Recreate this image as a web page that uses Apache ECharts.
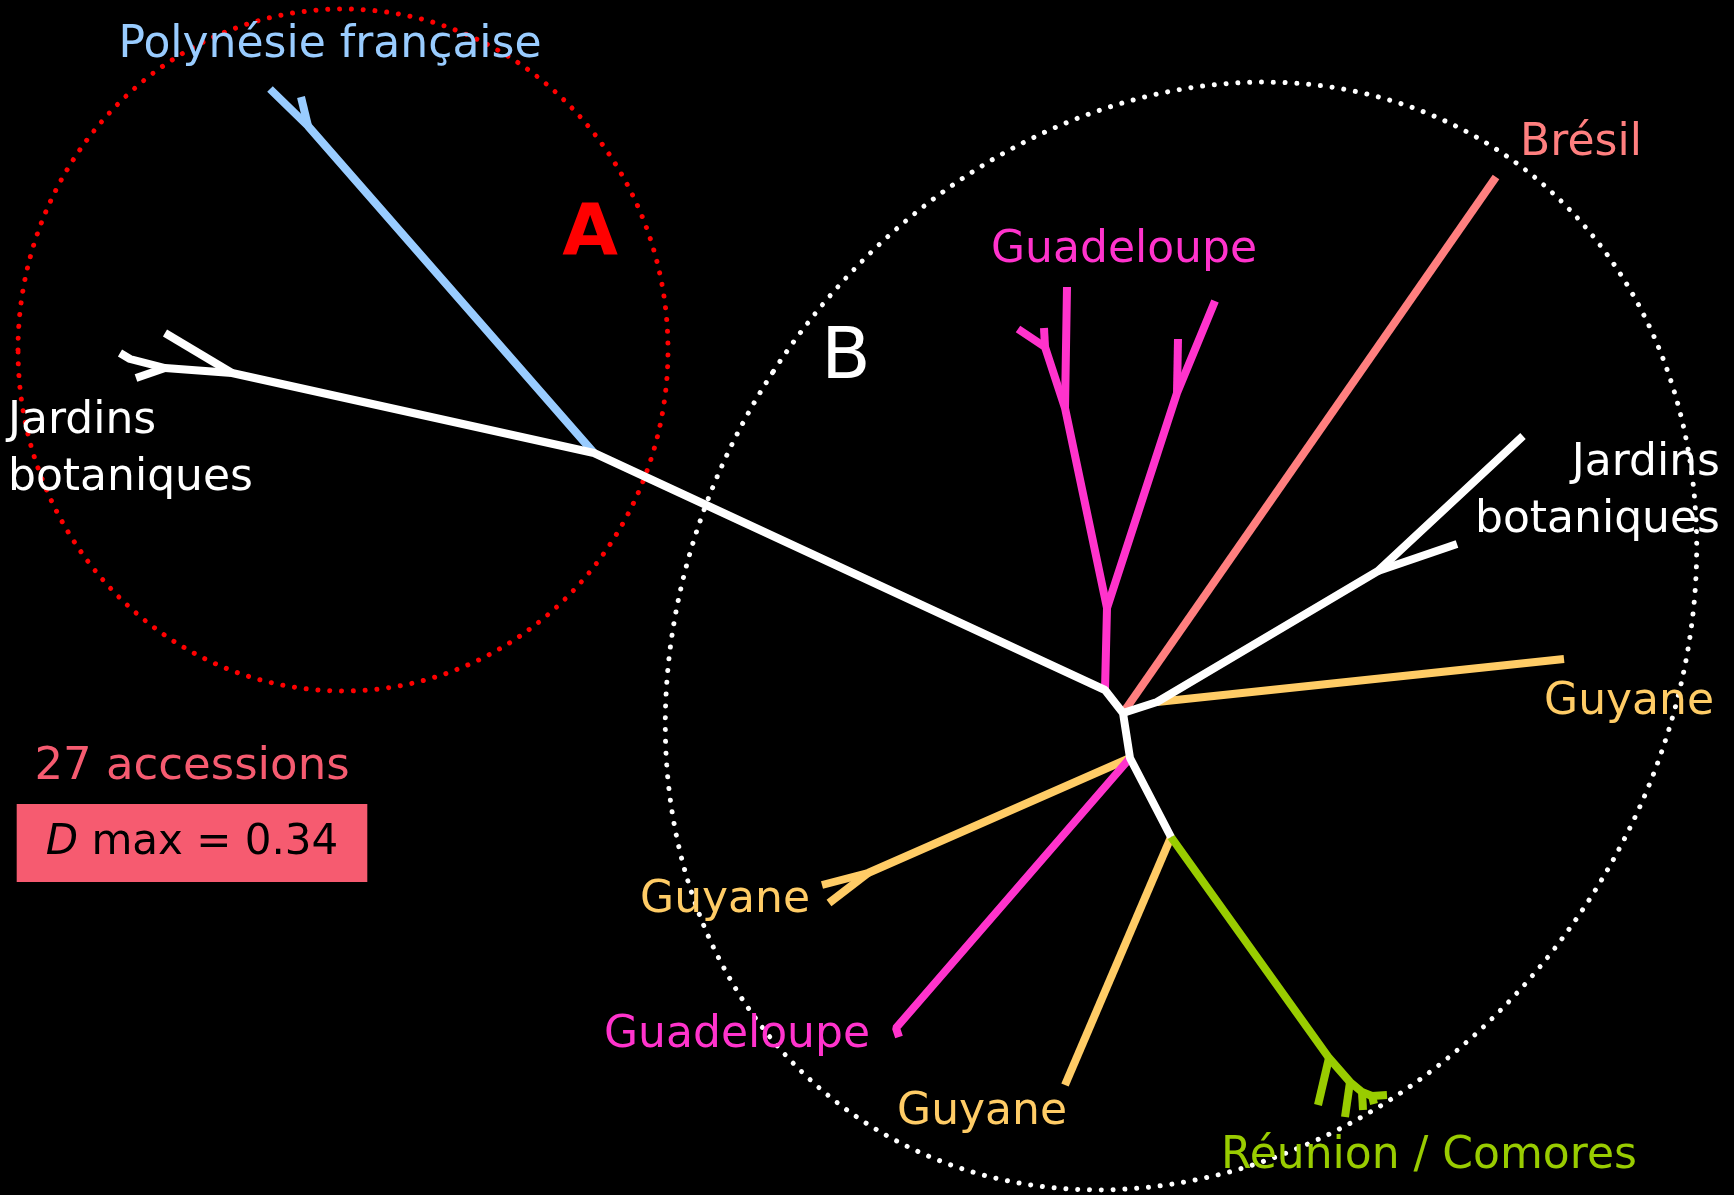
<!DOCTYPE html>
<html>
<head>
<meta charset="utf-8">
<title>Arbre non raciné - 27 accessions</title>
<script src="https://cdn.jsdelivr.net/npm/echarts@6/dist/echarts.min.js"></script>
<style>
html, body { margin: 0; padding: 0; background: #000; }
#tree { width: 1734px; height: 1195px; }
</style>
</head>
<body>
<div id="tree"></div>
<script>
// tree layout (layout units, y pointing down)
var whiteBranches = [
  [[120,353],[130,359],[165,368],[232,373],[594,453],[1105,690],[1123,713],[1130,758],[1171,837]],
  [[165,333],[232,373]],
  [[136,378],[165,368]],
  [[1123,713],[1157,702],[1378,571],[1523,436]],
  [[1378,571],[1457,544]]
];
var blueBranches = [
  [[594,453],[308,126],[270,89]],
  [[308,126],[301,97]]
];
var salmonBranches = [
  [[1123,713],[1496,177]]
];
var yellowBranches = [
  [[1157,702],[1564,659]],
  [[1130,758],[868,873],[822,885]],
  [[868,873],[829,903]],
  [[1171,837],[1065,1085]]
];
var pinkBranches = [
  [[1105,690],[1107,608],[1065,408],[1067,287]],
  [[1065,408],[1045,347],[1018,329]],
  [[1045,347],[1044,328]],
  [[1107,608],[1177,393],[1215,301]],
  [[1177,393],[1178,339]],
  [[1130,758],[896,1028],[899,1037]]
];
var greenBranches = [
  [[1171,837],[1329,1058],[1350,1082],[1362,1092],[1372,1096],[1387,1095]],
  [[1329,1058],[1318,1105]],
  [[1350,1082],[1345,1117]],
  [[1362,1092],[1363,1110]],
  [[1372,1096],[1374,1104]]
];

// clade outlines: centre x, centre y, half width, half height, tilt (deg, clockwise)
var cladeA = [343, 350, 325, 341, 0];
var cladeB = [1181, 636, 486, 580, 33];

// labels
var labelTexts = ['Polynésie française', 'A', 'B', 'Jardins\nbotaniques', 'Guadeloupe', 'Brésil',
  'Jardins\nbotaniques', 'Guyane', 'Guyane', 'Guadeloupe', 'Guyane', 'Réunion / Comores', '27 accessions'];
var labelAt = [[330,46],[590,235],[846,359],[8,450],[1124,251],[1581,144],
  [1720,492],[1714,703],[725,901],[737,1036],[982,1113],[1429,1157],[192,767]];
var labelColors = ['#99CCFF','#FF0000','#FFFFFF','#FFFFFF','#FF33CC','#FF7F7F',
  '#FFFFFF','#FFCC66','#FFCC66','#FF33CC','#FFCC66','#99CC00','#F65B70'];
var labelAlign = ['center','center','center','left','center','center',
  'right','right','center','center','center','center','center'];

var dmaxText = '{i|D}{n| max = 0.34}';
var dmaxAt = [192, 843];

var FONT = '"DejaVu Sans", Verdana, sans-serif';

var branchData = [];
function addBranches(list, color) {
  list.forEach(function (p) {
    branchData.push({ coords: p, lineStyle: { color: color } });
  });
}
addBranches(salmonBranches, '#FF7F7F');
addBranches(yellowBranches, '#FFCC66');
addBranches(pinkBranches, '#FF33CC');
addBranches(greenBranches, '#99CC00');
addBranches(blueBranches, '#99CCFF');
addBranches(whiteBranches, '#FFFFFF');

var labelData = labelTexts.map(function (t, i) {
  var big = (t === 'A' || t === 'B');
  return {
    value: labelAt[i],
    label: {
      formatter: t,
      color: labelColors[i],
      align: labelAlign[i],
      fontSize: big ? 72 : (t === '27 accessions' ? 45 : 44),
      fontWeight: t === 'A' ? 'bold' : 'normal',
      lineHeight: 57
    }
  };
});
labelData.push({
  value: dmaxAt,
  label: {
    formatter: dmaxText,
    align: 'center',
    backgroundColor: '#F65B70',
    padding: [17, 29, 17, 29],
    lineHeight: 44,
    rich: {
      i: { fontStyle: 'italic', fontSize: 42, color: '#000', fontFamily: FONT, lineHeight: 44 },
      n: { fontSize: 42, color: '#000', fontFamily: FONT, lineHeight: 44 }
    }
  }
});

var dom = document.getElementById('tree');
var myChart = echarts.init(dom);
var option = {
  backgroundColor: '#000',
  animation: false,
  grid: { left: 0, right: 0, top: 0, bottom: 0 },
  xAxis: { type: 'value', min: 0, max: 1734, show: false },
  yAxis: { type: 'value', min: 0, max: 1195, inverse: true, show: false },
  series: [
    {
      type: 'custom',
      silent: true,
      data: [cladeA.concat(0), cladeB.concat(1)],
      renderItem: function (params, api) {
        var c = api.coord([api.value(0), api.value(1)]);
        var s = api.size([api.value(2), api.value(3)]);
        return {
          type: 'ellipse',
          x: c[0], y: c[1],
          rotation: -api.value(4) * Math.PI / 180,
          shape: { cx: 0, cy: 0, rx: s[0], ry: s[1] },
          style: {
            fill: 'none',
            stroke: api.value(5) === 0 ? '#FF0000' : '#FFFFFF',
            lineWidth: 5,
            lineDash: [0.01, 11.8],
            lineCap: 'round'
          }
        };
      }
    },
    {
      type: 'lines',
      coordinateSystem: 'cartesian2d',
      polyline: true,
      silent: true,
      lineStyle: { width: 8, opacity: 1, cap: 'butt', join: 'bevel' },
      data: branchData
    },
    {
      type: 'scatter',
      silent: true,
      symbolSize: 0,
      itemStyle: { opacity: 1 },
      label: {
        show: true,
        position: [0, 0],
        verticalAlign: 'middle',
        fontFamily: FONT,
        opacity: 1
      },
      data: labelData
    }
  ]
};
if (option && typeof option === 'object') {
  myChart.setOption(option, true);
  window.addEventListener('resize', function () { myChart.resize(); });
}
</script>
</body>
</html>
